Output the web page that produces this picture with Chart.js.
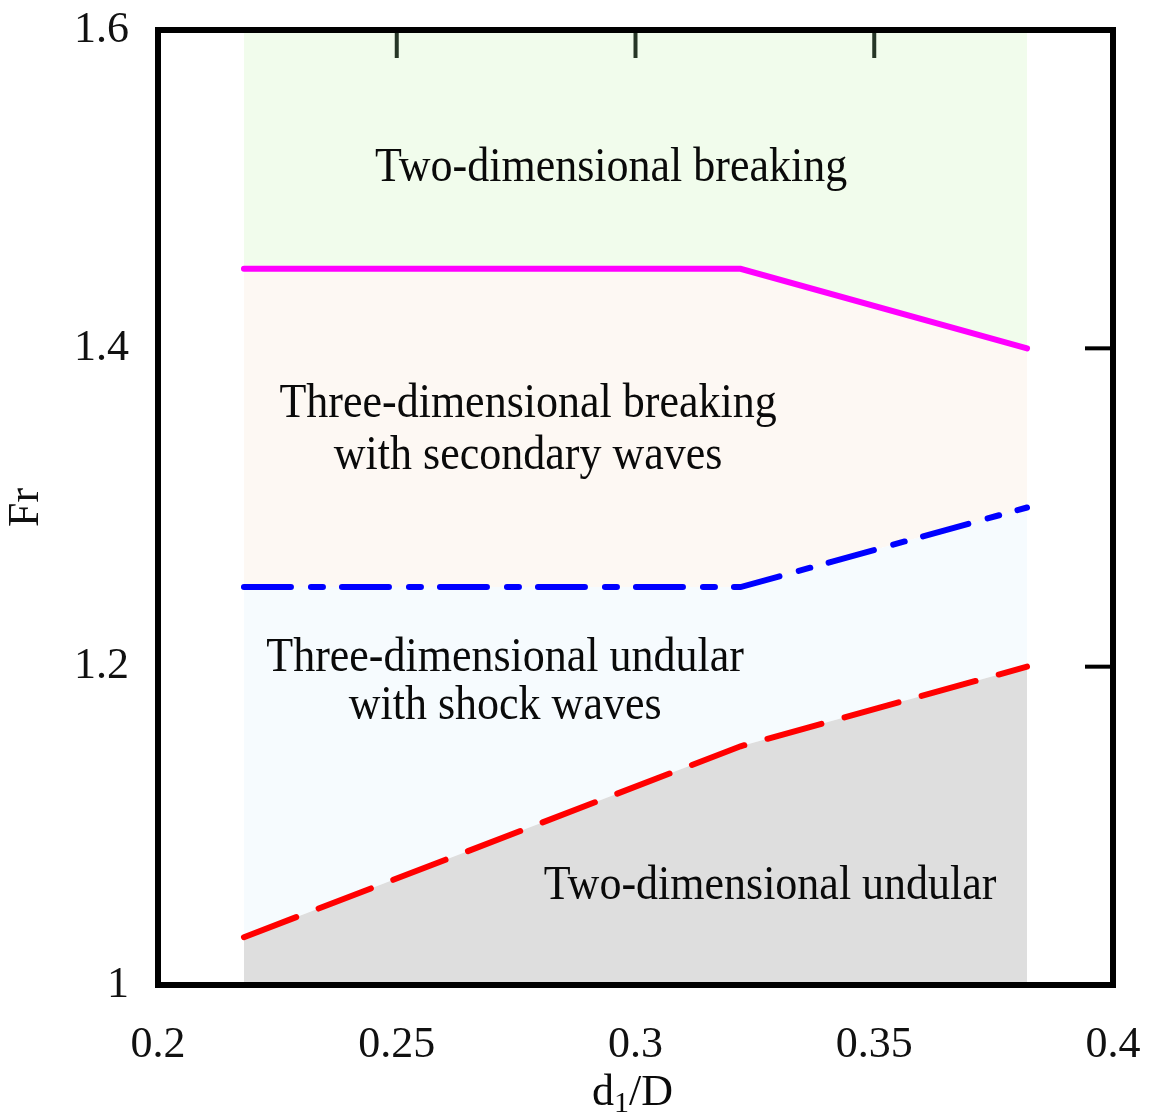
<!DOCTYPE html>
<html>
<head>
<meta charset="utf-8">
<title>Fr - d1/D</title>
<script src="https://cdn.jsdelivr.net/npm/chart.js@4.4.1/dist/chart.umd.min.js"></script>
<style>
    html, body { margin: 0; padding: 0; background: #ffffff; }
    #grafik { display: block; }
</style>
</head>
<body>
<canvas id="grafik" width="1149" height="1116"></canvas>
<script>
// 1. DATA
const batasX = [0.218, 0.322, 0.382];          // d1/D pada titik patahan garis
const garisMerah = [1.03, 1.15, 1.20];         // batas undular 2D / 3D
const garisBiru = [1.25, 1.25, 1.30];          // batas undular 3D / breaking 3D
const garisMagenta = [1.45, 1.45, 1.40];       // batas breaking 3D / 2D
const garisAtas = [1.6, 1.6, 1.6];             // tepi atas daerah hijau

const tickX = [0.2, 0.25, 0.3, 0.35, 0.4];
const tickY = [1, 1.2, 1.4, 1.6];
const tickAtas = [0.25, 0.3, 0.35];
const tickKanan = [1.2, 1.4];

const teksDaerah = ['Two-dimensional breaking', 'Three-dimensional breaking', 'with secondary waves',
    'Three-dimensional undular', 'with shock waves', 'Two-dimensional undular'];
const teksX = [0.2949, 0.2775, 0.2775, 0.2727, 0.2727, 0.3282];
const teksY = [1.513, 1.365, 1.332, 1.205, 1.175, 1.062];

const FONT = '"Liberation Serif", "Times New Roman", serif';

// 2. HELPER
function keTitik(ys) {
    return batasX.map((x, i) => ({ x: x, y: ys[i] }));
}

// padding label skala dibuang supaya area plot hanya ditentukan layout.padding
function nolkanPadding(s) {
    s.paddingTop = 0;
    s.paddingBottom = 0;
    s.paddingLeft = 0;
    s.paddingRight = 0;
}

// 3. PLUGIN BINGKAI, TICK DALAM, TEKS
const pluginBingkai = {
    id: 'bingkai',
    afterDatasetsDraw(chart) {
        const { ctx, chartArea: a, scales } = chart;
        ctx.save();

        // teks tiap daerah (sedikit ditarik vertikal)
        ctx.fillStyle = '#0a0a0a';
        ctx.font = '44px ' + FONT;
        ctx.textAlign = 'center';
        ctx.textBaseline = 'middle';
        teksDaerah.forEach((t, i) => {
            const px = scales.x.getPixelForValue(teksX[i]);
            const py = scales.y.getPixelForValue(teksY[i]);
            ctx.save();
            ctx.translate(px, py);
            ctx.scale(1, 1.1);
            ctx.fillText(t, 0, 0);
            ctx.restore();
        });

        // tick di sisi atas
        ctx.lineCap = 'butt';
        ctx.lineWidth = 4;
        ctx.strokeStyle = '#263626';
        tickAtas.forEach(v => {
            const px = scales.x.getPixelForValue(v);
            ctx.beginPath();
            ctx.moveTo(px, a.top);
            ctx.lineTo(px, a.top + 28);
            ctx.stroke();
        });

        // tick di sisi kanan
        ctx.strokeStyle = '#000';
        tickKanan.forEach(v => {
            const py = scales.y.getPixelForValue(v);
            ctx.beginPath();
            ctx.moveTo(a.right - 28, py);
            ctx.lineTo(a.right, py);
            ctx.stroke();
        });

        // bingkai
        ctx.lineWidth = 6;
        ctx.strokeRect(a.left, a.top, a.right - a.left, a.bottom - a.top);

        // judul sumbu x: d1/D dengan subskrip
        const tengah = (a.left + a.right) / 2 - 3;
        const dasar = 1105;
        ctx.textAlign = 'left';
        ctx.textBaseline = 'alphabetic';
        ctx.font = '44px ' + FONT;
        const wD = ctx.measureText('d').width;
        const wS = ctx.measureText('/D').width;
        ctx.font = '30px ' + FONT;
        const w1 = ctx.measureText('1').width;
        let x0 = tengah - (wD + w1 + wS) / 2;
        ctx.font = '44px ' + FONT;
        ctx.fillText('d', x0, dasar);
        ctx.font = '30px ' + FONT;
        ctx.fillText('1', x0 + wD, dasar + 7);
        ctx.font = '44px ' + FONT;
        ctx.fillText('/D', x0 + wD + w1, dasar);

        ctx.restore();
    }
};

// 4. GRAFIK
const ctx = document.getElementById('grafik').getContext('2d');
new Chart(ctx, {
    type: 'line',
    data: {
        datasets: [
            {
                label: 'Batas undular 2D',
                data: keTitik(garisMerah),
                borderColor: '#ff0000',
                borderWidth: 6,
                borderDash: [56, 24],
                borderCapStyle: 'round',
                backgroundColor: '#dedede',
                fill: 'start'
            },
            {
                label: 'Batas undular 3D',
                data: keTitik(garisBiru),
                borderColor: '#0000ff',
                borderWidth: 6,
                borderDash: [47, 20, 12, 19],
                borderCapStyle: 'round',
                backgroundColor: '#f6fbfe',
                fill: 0
            },
            {
                label: 'Batas breaking 3D',
                data: keTitik(garisMagenta),
                borderColor: '#ff00ff',
                borderWidth: 6,
                borderCapStyle: 'round',
                backgroundColor: '#fdf8f3',
                fill: 1
            },
            {
                label: 'Tepi atas',
                data: keTitik(garisAtas),
                borderWidth: 0,
                borderColor: 'rgba(0,0,0,0)',
                backgroundColor: '#f1fcec',
                fill: 2
            }
        ]
    },
    options: {
        responsive: false,
        animation: false,
        layout: { padding: { top: 30, right: 36, left: 0, bottom: 0 } },
        elements: { point: { radius: 0 }, line: { tension: 0 } },
        plugins: {
            legend: { display: false },
            tooltip: { enabled: false },
            filler: { drawTime: 'beforeDatasetsDraw' }
        },
        scales: {
            x: {
                type: 'linear',
                min: 0.2,
                max: 0.4,
                grid: { display: false },
                border: { display: false },
                afterBuildTicks: s => { s.ticks = tickX.map(v => ({ value: v })); },
                afterFit: s => { s.height = 131; nolkanPadding(s); },
                ticks: {
                    maxRotation: 0,
                    autoSkip: false,
                    padding: 26,
                    color: '#111',
                    font: { family: FONT, size: 44 },
                    callback: v => String(+v.toFixed(2))
                }
            },
            y: {
                type: 'linear',
                min: 1,
                max: 1.6,
                grid: { display: false },
                border: { display: false },
                afterBuildTicks: s => { s.ticks = tickY.map(v => ({ value: v })); },
                afterFit: s => { s.width = 158; nolkanPadding(s); },
                ticks: {
                    autoSkip: false,
                    padding: 21,
                    color: '#111',
                    font: { family: FONT, size: 44 },
                    callback: v => String(+v.toFixed(2))
                },
                title: {
                    display: true,
                    text: 'Fr',
                    color: '#111',
                    padding: { top: 0, bottom: 0 },
                    font: { family: FONT, size: 44 }
                }
            }
        }
    },
    plugins: [pluginBingkai]
});
</script>
</body>
</html>
